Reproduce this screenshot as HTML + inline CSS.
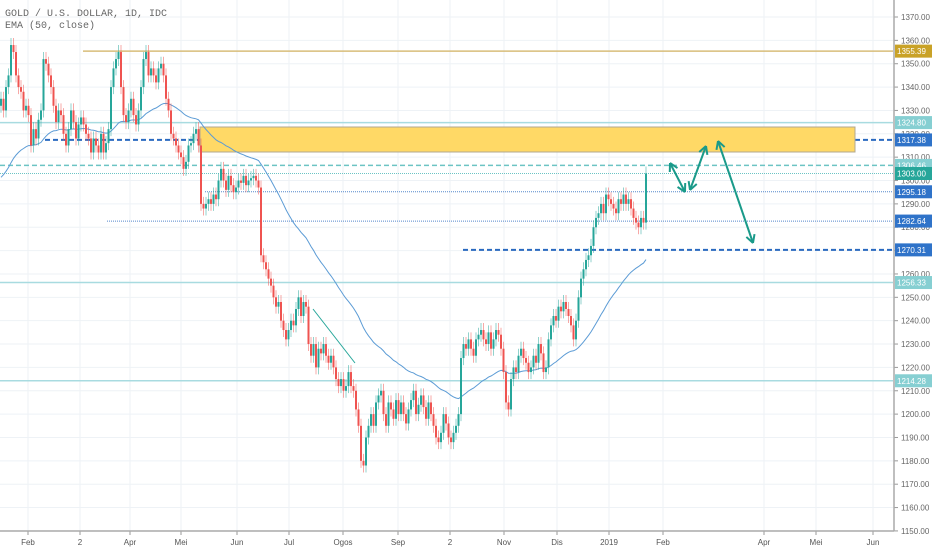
<!DOCTYPE html>
<html><head><meta charset="utf-8"><style>
body{margin:0;background:#fff;font-family:"Liberation Sans",sans-serif}
</style></head><body>
<svg id="chart" width="932" height="550" xmlns="http://www.w3.org/2000/svg" font-family="Liberation Sans, sans-serif">
<g id="grid"></g>
<g id="levels"></g>
<g id="ema"></g>
<g id="candles"></g>
<g id="drawings"></g>
<g id="axes"></g>
<text x="5" y="16" font-size="10" fill="#666" style="font-family:'Liberation Mono',monospace">GOLD / U.S. DOLLAR, 1D, IDC</text>
<text x="5" y="28" font-size="10" fill="#666" style="font-family:'Liberation Mono',monospace">EMA (50, close)</text>
</svg>
<script>
const closes=[1335,1330,1340,1345,1358,1355,1345,1340,1338,1330,1332,1328,1315,1322,1318,1326,1330,1352,1350,1345,1340,1332,1325,1330,1328,1320,1315,1322,1330,1325,1318,1324,1327,1324,1320,1318,1312,1318,1315,1312,1320,1312,1316,1322,1340,1348,1352,1355,1340,1328,1325,1330,1335,1328,1324,1330,1340,1352,1355,1345,1348,1345,1342,1348,1350,1345,1335,1330,1320,1318,1315,1312,1310,1305,1308,1315,1316,1320,1322,1315,1290,1288,1290,1292,1290,1294,1292,1300,1305,1300,1296,1302,1298,1295,1297,1300,1299,1302,1298,1300,1301,1302,1300,1297,1268,1265,1262,1258,1255,1250,1246,1248,1240,1236,1232,1236,1240,1238,1245,1250,1242,1248,1246,1230,1225,1230,1220,1228,1226,1230,1225,1222,1225,1220,1215,1212,1215,1210,1212,1218,1212,1210,1202,1195,1180,1178,1190,1195,1200,1195,1205,1208,1210,1200,1195,1205,1202,1198,1206,1200,1205,1200,1196,1202,1206,1210,1200,1204,1208,1203,1198,1205,1200,1195,1190,1188,1192,1200,1196,1190,1188,1192,1195,1200,1224,1230,1228,1232,1228,1225,1232,1234,1236,1232,1230,1235,1228,1232,1236,1234,1228,1218,1205,1202,1215,1220,1218,1225,1228,1224,1222,1218,1220,1225,1222,1230,1226,1218,1220,1232,1238,1242,1240,1246,1244,1248,1245,1242,1238,1232,1240,1250,1258,1262,1266,1268,1272,1280,1284,1286,1290,1286,1294,1292,1290,1288,1286,1292,1290,1294,1290,1292,1288,1284,1282,1280,1284,1282,1303];
const yTicks=[1370,1360,1350,1340,1330,1320,1310,1300,1290,1280,1270,1260,1250,1240,1230,1220,1210,1200,1190,1180,1170,1160,1150];
const xLabels=["Feb","2","Apr","Mei","Jun","Jul","Ogos","Sep","2","Nov","Dis","2019","Feb","Apr","Mei","Jun"];
const xLabelPos=[28,80,130,181,237,289,343,398,450,504,557,609,663,764,816,873];
const levelPrices=[1355.39,1324.80,1317.38,1306.46,1303.00,1295.18,1282.64,1270.31,1256.33,1214.28];
const NS="http://www.w3.org/2000/svg";
const y=p=>17+(1370-p)*2.336;
const x=i=>1+i*2.5;
function el(t,a,parent){const e=document.createElementNS(NS,t);for(const k in a)e.setAttribute(k,a[k]);parent.appendChild(e);return e;}
const grid=document.getElementById('grid'),axes=document.getElementById('axes'),lv=document.getElementById('levels'),cg=document.getElementById('candles'),dg=document.getElementById('drawings'),eg=document.getElementById('ema');
yTicks.forEach(p=>{const l=el('line',{x1:0,x2:893,y1:y(p),y2:y(p),stroke:'#eef2f6'},grid);
const t=el('text',{x:901,y:y(p)+3,'font-size':8,fill:'#666'},axes);t.textContent=p.toFixed(2);
el('line',{x1:894,x2:898,y1:y(p),y2:y(p),stroke:'#999'},axes);});
xLabels.forEach((s,i)=>{const xp=xLabelPos[i];const g=el('line',{x1:xp,x2:xp,y1:0,y2:531,stroke:'#eef2f6'},grid);
el('line',{x1:xp,x2:xp,y1:531,y2:535,stroke:'#999'},axes);
const t=el('text',{x:xp,y:545,'font-size':8,fill:'#555','text-anchor':'middle'},axes);t.textContent=s;});
el('line',{x1:894,x2:894,y1:0,y2:531,stroke:'#aaa','stroke-width':1.5},axes);
el('line',{x1:0,x2:894,y1:531,y2:531,stroke:'#aaa','stroke-width':1.5},axes);
const lvStyle=[[83,'#d8bd7a',1.5,'','#c9a227'],[0,'#a8dbe0',1.5,'','#86cfd2'],[855,'#2a6ac0',2,'5,3','#2f73c9'],[0,'#6cc4c4',1.5,'5,3','#86cfd2'],[0,'#6cc4c4',1,'1,1','#26a69a'],[205,'#5588cc',1,'1,1','#2f73c9'],[107,'#5588cc',1,'1,1','#2f73c9'],[463,'#2a6ac0',2,'5,3','#2f73c9'],[0,'#a8dbe0',1.5,'','#86cfd2'],[0,'#a8dbe0',1.5,'','#86cfd2']];
levelPrices.forEach((p,i)=>{const s=lvStyle[i];const l=el('line',{x1:s[0],x2:893,y1:y(p),y2:y(p),stroke:s[1],'stroke-width':s[2],'stroke-dasharray':s[3]},lv);
const r=el('rect',{x:895,y:y(p)-6.5,width:37,height:13,fill:s[4]},axes);
const t=el('text',{x:897,y:y(p)+3,'font-size':8,fill:'#fff'},axes);t.textContent=p.toFixed(2);});
const bl=el('line',{x1:45,x2:200,y1:y(1317.38),y2:y(1317.38),stroke:'#2a6ac0','stroke-width':2,'stroke-dasharray':'5,3'},lv);
const zone=el('rect',{x:200,y:127,width:655,height:25,fill:'#ffd966',stroke:'#b0a890'},lv);
let e=1300,pts=[];const k=2/51;closes.forEach((c,i)=>{e=c*k+e*(1-k);pts.push(x(i).toFixed(1)+','+y(e).toFixed(1));});
const pl=el('polyline',{points:pts.join(' '),fill:'none',stroke:'#5b9bd5','stroke-width':1},eg);
closes.forEach((c,i)=>{const o=i?closes[i-1]:c-3;const up=c>=o;const col=up?'#26a69a':'#ef5350';const hi=Math.max(o,c)+3,lo=Math.min(o,c)-3;
const g=el('g',{},cg);
el('line',{x1:x(i),x2:x(i),y1:y(hi),y2:y(lo),stroke:col,'stroke-opacity':0.5},g);
el('rect',{x:x(i)-1,y:y(Math.max(o,c)),width:2,height:Math.max(1,Math.abs(y(o)-y(c))),fill:col},g);});
const tl=el('line',{x1:313,y1:309,x2:355,y2:363,stroke:'#26a69a','stroke-width':1},dg);
[[670,163,685,192],[690,190,706,146],[718,141,753,243]].forEach(a=>{const g=el('g',{stroke:'#1a9a8a','stroke-width':2,fill:'none'},dg);
el('line',{x1:a[0],y1:a[1],x2:a[2],y2:a[3]},g);
[[a[0],a[1],a[2],a[3]],[a[2],a[3],a[0],a[1]]].forEach(b=>{const ang=Math.atan2(b[1]-b[3],b[0]-b[2]);[0.5,-0.5].forEach(d=>{el('line',{x1:b[0],y1:b[1],x2:b[0]-9*Math.cos(ang+d),y2:b[1]-9*Math.sin(ang+d)},g);});});});
</script>
</body></html>
